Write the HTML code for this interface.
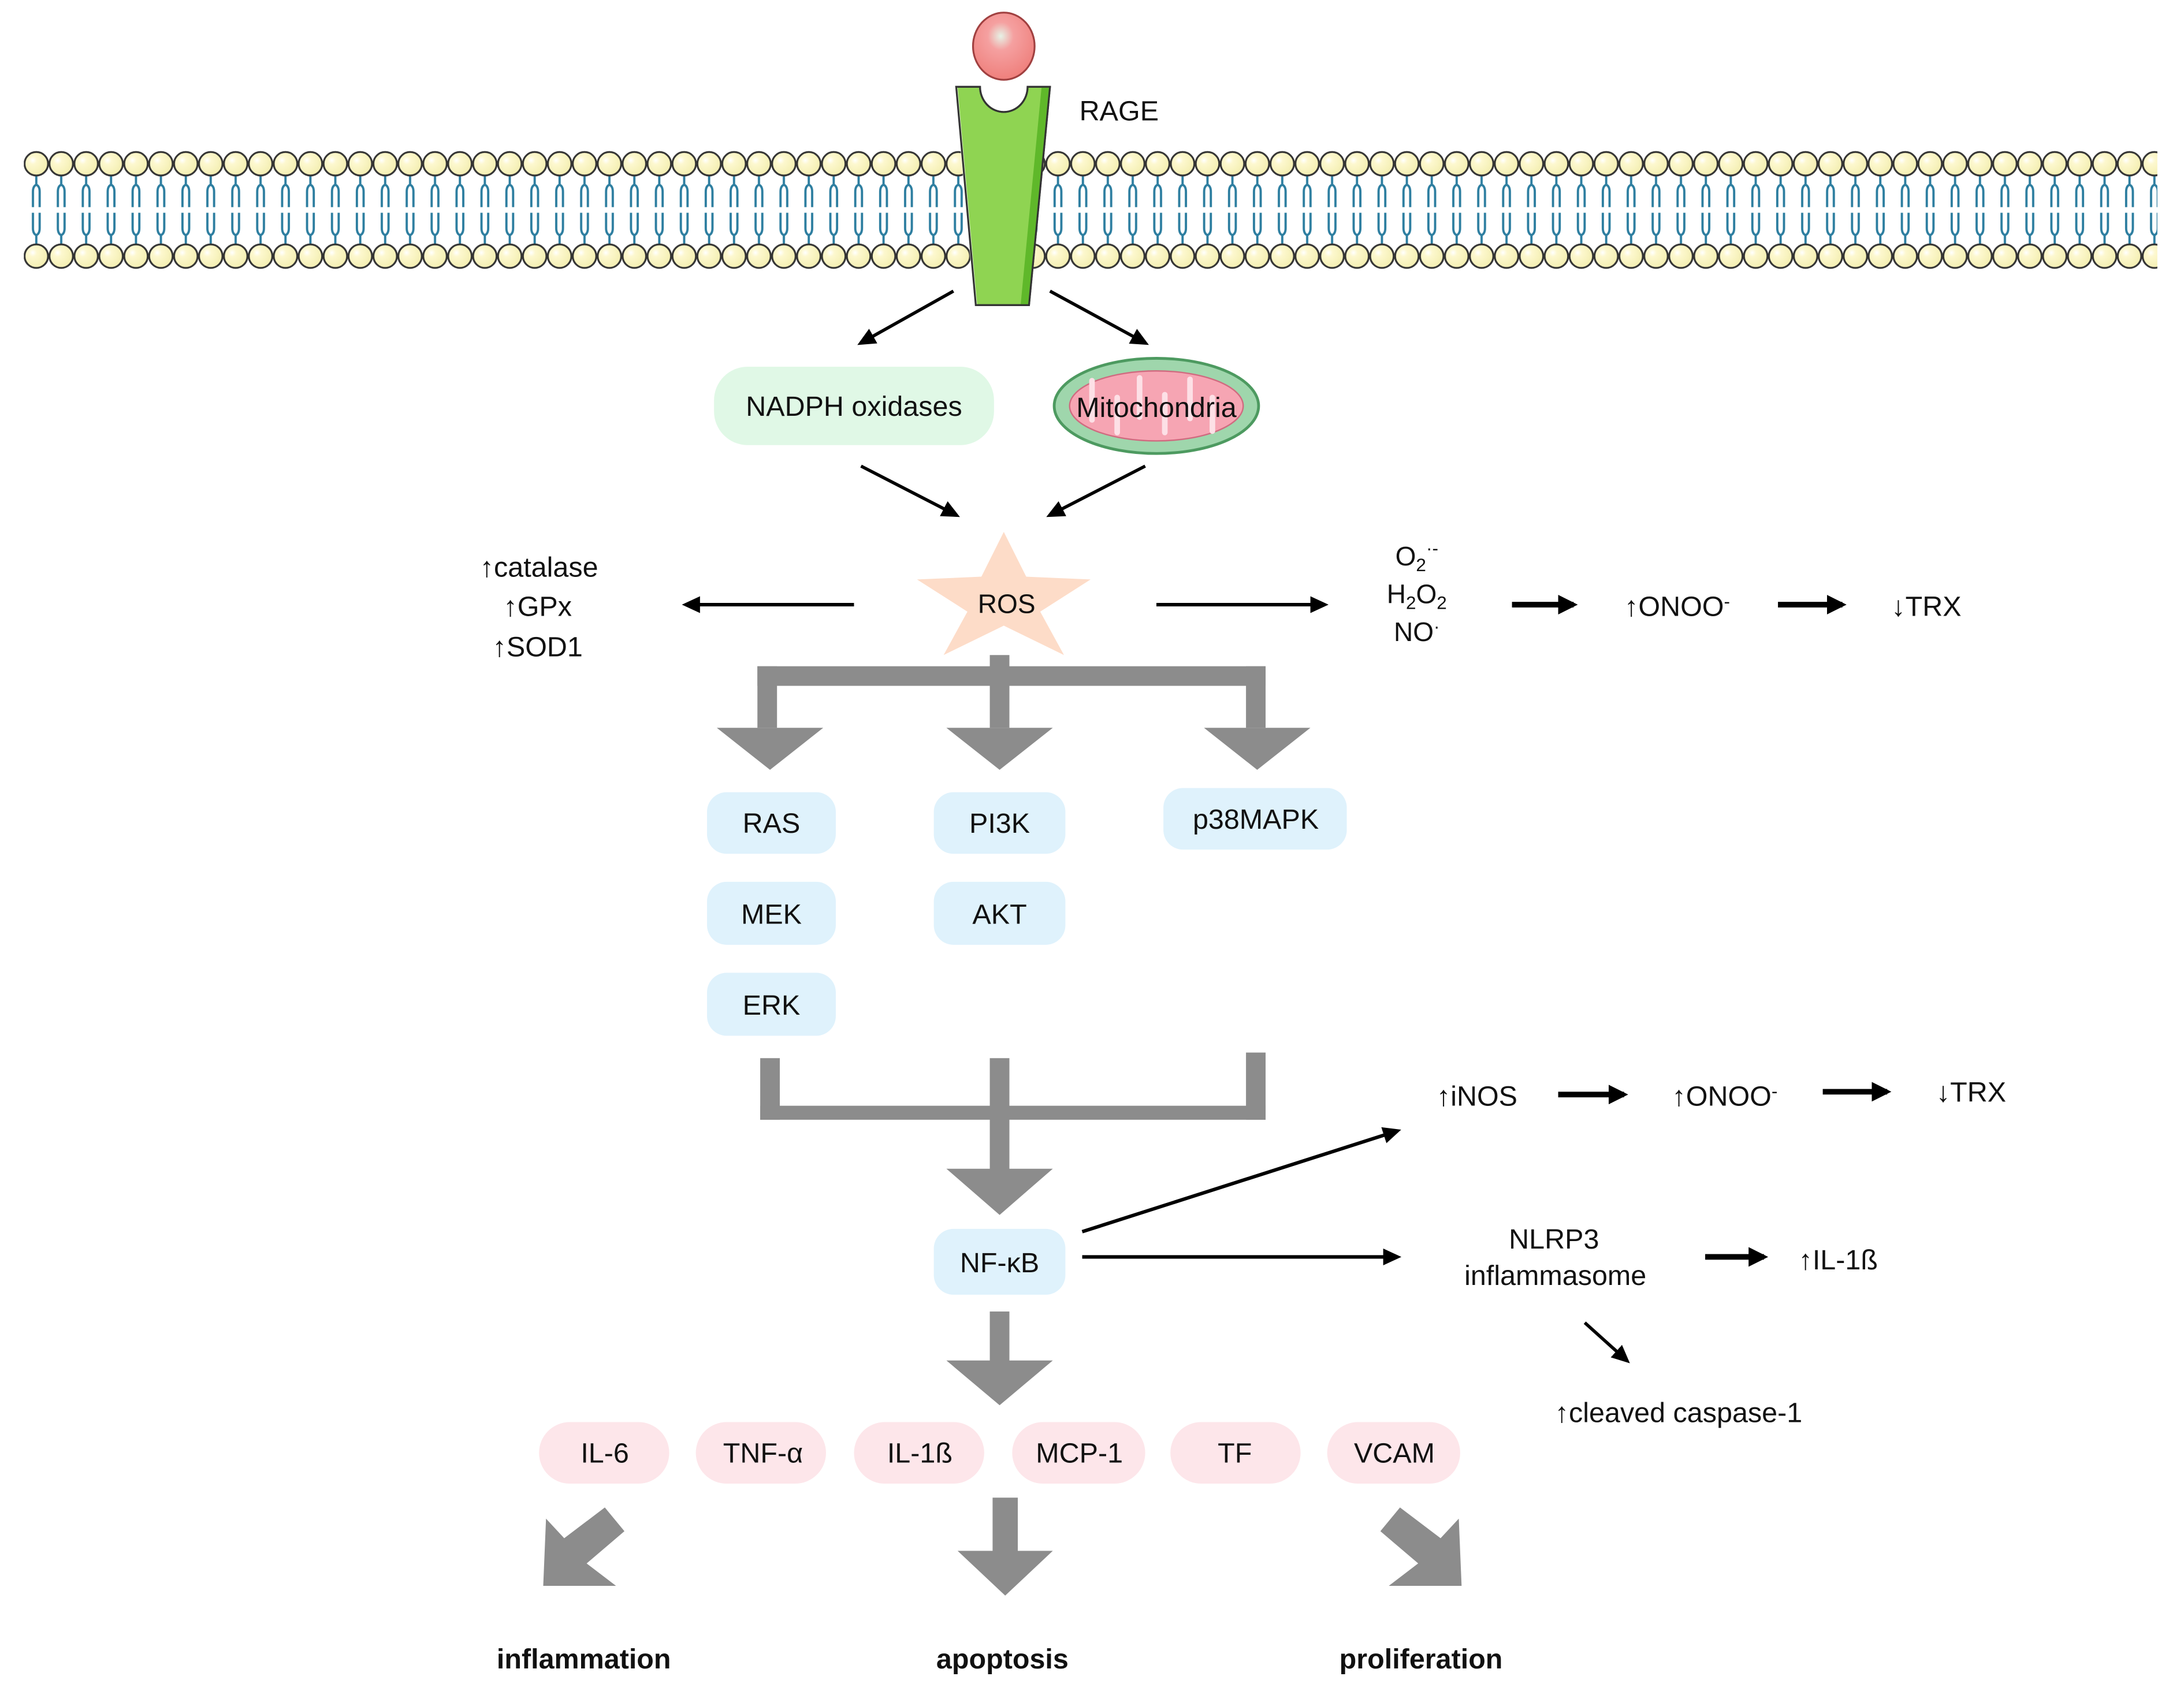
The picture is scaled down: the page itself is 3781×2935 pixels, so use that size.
<!DOCTYPE html>
<html><head><meta charset="utf-8"><style>
html,body{margin:0;padding:0;background:#fff;}
svg{display:block;}
text{font-family:"Liberation Sans",Arial,sans-serif;fill:#111;}
</style></head><body>
<svg width="3781" height="2935" viewBox="0 0 1560 1211" xmlns="http://www.w3.org/2000/svg">
<defs>
<radialGradient id="head" cx="0.35" cy="0.35" r="0.7"><stop offset="0" stop-color="#ffffff"/><stop offset="0.25" stop-color="#fdf8cf"/><stop offset="1" stop-color="#f3eeb0"/></radialGradient>
<radialGradient id="ball" cx="0.45" cy="0.35" r="0.7"><stop offset="0" stop-color="#e6f2e6"/><stop offset="0.3" stop-color="#f5a0a0"/><stop offset="1" stop-color="#ee7c78"/></radialGradient>
<pattern id="mem" patternUnits="userSpaceOnUse" x="17" y="0" width="17.8" height="300">
<path d="M8.9 126 V132 M8.9 132 Q6.5 133 6.5 137 V148 M8.9 132 Q11.3 133 11.3 137 V148 M8.9 174 V168 M8.9 168 Q6.5 167 6.5 163 V152 M8.9 168 Q11.3 167 11.3 163 V152" stroke="#2d7ea0" stroke-width="1.6" fill="none"/>
<circle cx="8.9" cy="117" r="8.4" fill="url(#head)" stroke="#333" stroke-width="1.3"/>
<circle cx="8.9" cy="183" r="8.4" fill="url(#head)" stroke="#333" stroke-width="1.3"/>
</pattern>
<marker id="ah" markerWidth="13" markerHeight="12" refX="10" refY="6" orient="auto" markerUnits="userSpaceOnUse"><path d="M0 0 L13 6 L0 12 Z" fill="#000"/></marker>
<marker id="ah2" markerWidth="14" markerHeight="14" refX="11" refY="7" orient="auto" markerUnits="userSpaceOnUse"><path d="M0 0 L14 7 L0 14 Z" fill="#000"/></marker>
</defs>

<rect x="17" y="106" width="1524" height="88" fill="url(#mem)"/>

<path d="M683 62 H700 A17 18 0 0 0 734 62 H750 L735 218 H697 Z" fill="#8fd452" stroke="#333" stroke-width="1.3"/>
<path d="M744 62 H750 L735 218 H729 Z" fill="#5fb82a"/>
<path d="M683 62 L697 218" stroke="#fff" stroke-width="2" opacity="0.7"/>
<path d="M683 62 H700 A17 18 0 0 0 734 62 H750 L735 218 H697 Z" fill="none" stroke="#333" stroke-width="1.3"/>
<ellipse cx="717" cy="33" rx="22" ry="24" fill="url(#ball)" stroke="#a04040" stroke-width="1.3"/>
<text x="771" y="86" font-size="20">RAGE</text>

<line x1="681" y1="208" x2="615" y2="245" stroke="#000" stroke-width="2.3" marker-end="url(#ah)"/>
<line x1="750" y1="208" x2="818" y2="245" stroke="#000" stroke-width="2.3" marker-end="url(#ah)"/>

<rect x="510" y="262" width="200" height="56" rx="24" fill="#e0f8e6"/>
<text x="610" y="297" font-size="20" text-anchor="middle">NADPH oxidases</text>

<ellipse cx="826" cy="290" rx="73" ry="34" fill="#9fd6ac" stroke="#4d9a60" stroke-width="2"/>
<ellipse cx="826" cy="290" rx="62" ry="25" fill="#f6a5b3" stroke="#d06b80" stroke-width="1"/>
<g stroke="#fde0e6" stroke-width="4" fill="none" stroke-linecap="round">
<path d="M780 272 V300 M798 309 V284 M814 270 V298 M832 309 V282 M850 271 V299 M866 308 V284"/>
</g>
<text x="826" y="298" font-size="20" text-anchor="middle">Mitochondria</text>

<line x1="615" y1="333" x2="683" y2="368" stroke="#000" stroke-width="2.3" marker-end="url(#ah)"/>
<line x1="818" y1="333" x2="750" y2="368" stroke="#000" stroke-width="2.3" marker-end="url(#ah)"/>

<polygon points="717,380 733,412 779,414 743,437 760,468 717,447 674,468 691,437 655,414 701,412" fill="#fddcc8"/>
<text x="719" y="438" font-size="19" text-anchor="middle">ROS</text>

<line x1="610" y1="432" x2="490" y2="432" stroke="#000" stroke-width="2.5" marker-end="url(#ah)"/>
<text x="385" y="412" font-size="20" text-anchor="middle">↑catalase</text>
<text x="384" y="440" font-size="20" text-anchor="middle">↑GPx</text>
<text x="384" y="469" font-size="20" text-anchor="middle">↑SOD1</text>

<line x1="826" y1="432" x2="946" y2="432" stroke="#000" stroke-width="2.5" marker-end="url(#ah)"/>
<text x="1012" y="404" font-size="19" text-anchor="middle">O<tspan font-size="13" dy="4">2</tspan><tspan font-size="13" dy="-12">·-</tspan></text>
<text x="1012" y="431" font-size="19" text-anchor="middle">H<tspan font-size="13" dy="4">2</tspan><tspan dy="-4">O</tspan><tspan font-size="13" dy="4">2</tspan></text>
<text x="1012" y="458" font-size="19" text-anchor="middle">NO<tspan font-size="13" dy="-6">·</tspan></text>

<line x1="1080" y1="432" x2="1124" y2="432" stroke="#000" stroke-width="4" marker-end="url(#ah2)"/>
<text x="1198" y="440" font-size="20" text-anchor="middle">↑ONOO<tspan font-size="13" dy="-6">-</tspan></text>
<line x1="1270" y1="432" x2="1316" y2="432" stroke="#000" stroke-width="4" marker-end="url(#ah2)"/>
<text x="1376" y="440" font-size="20" text-anchor="middle">↓TRX</text>

<g fill="#8c8c8c">
<rect x="541" y="476" width="363" height="14"/>
<rect x="707" y="468" width="14" height="52"/>
<rect x="541" y="476" width="14" height="44"/>
<rect x="890" y="476" width="14" height="44"/>
<polygon points="512,520 588,520 550,550"/>
<polygon points="676,520 752,520 714,550"/>
<polygon points="860,520 936,520 898,550"/>
<rect x="543" y="756" width="14" height="44"/>
<rect x="707" y="756" width="14" height="80"/>
<rect x="890" y="752" width="14" height="48"/>
<rect x="543" y="790" width="361" height="10"/>
<polygon points="676,835 752,835 714,868"/>
<rect x="707" y="937" width="14" height="36"/>
<polygon points="676,972 752,972 714,1004"/>
<rect x="709" y="1070" width="18" height="40"/>
<polygon points="684,1108 752,1108 718,1140"/>
<polygon points="388,1133 390,1085 403,1099 432,1077 446,1094 419,1117 440,1133"/>
<polygon points="1044,1133 1042,1085 1029,1099 1000,1077 986,1094 1013,1117 992,1133"/>
</g>

<g fill="#dff2fc">
<rect x="505" y="566" width="92" height="44" rx="14"/>
<rect x="667" y="566" width="94" height="44" rx="14"/>
<rect x="831" y="563" width="131" height="44" rx="14"/>
<rect x="505" y="630" width="92" height="45" rx="14"/>
<rect x="667" y="630" width="94" height="45" rx="14"/>
<rect x="505" y="695" width="92" height="45" rx="14"/>
<rect x="667" y="878" width="94" height="47" rx="14"/>
</g>
<g font-size="20" text-anchor="middle">
<text x="551" y="595">RAS</text>
<text x="714" y="595">PI3K</text>
<text x="897" y="592">p38MAPK</text>
<text x="551" y="660">MEK</text>
<text x="714" y="660">AKT</text>
<text x="551" y="725">ERK</text>
<text x="714" y="909">NF-κB</text>
</g>

<line x1="773" y1="880" x2="998" y2="808" stroke="#000" stroke-width="2.5" marker-end="url(#ah)"/>
<line x1="773" y1="898" x2="998" y2="898" stroke="#000" stroke-width="2.5" marker-end="url(#ah)"/>

<text x="1055" y="790" font-size="20" text-anchor="middle">↑iNOS</text>
<line x1="1113" y1="782" x2="1160" y2="782" stroke="#000" stroke-width="4" marker-end="url(#ah2)"/>
<text x="1232" y="790" font-size="20" text-anchor="middle">↑ONOO<tspan font-size="13" dy="-6">-</tspan></text>
<line x1="1302" y1="780" x2="1348" y2="780" stroke="#000" stroke-width="4" marker-end="url(#ah2)"/>
<text x="1408" y="787" font-size="20" text-anchor="middle">↓TRX</text>

<text x="1110" y="892" font-size="20" text-anchor="middle">NLRP3</text>
<text x="1111" y="918" font-size="20" text-anchor="middle">inflammasome</text>
<line x1="1218" y1="898" x2="1260" y2="898" stroke="#000" stroke-width="4" marker-end="url(#ah2)"/>
<text x="1313" y="907" font-size="20" text-anchor="middle">↑IL-1ß</text>
<line x1="1132" y1="945" x2="1162" y2="972" stroke="#000" stroke-width="2.3" marker-end="url(#ah)"/>
<text x="1199" y="1016" font-size="20" text-anchor="middle">↑cleaved caspase-1</text>

<g fill="#fde6ea">
<rect x="385" y="1016" width="93" height="44" rx="22"/>
<rect x="497" y="1016" width="93" height="44" rx="22"/>
<rect x="610" y="1016" width="93" height="44" rx="22"/>
<rect x="723" y="1016" width="95" height="44" rx="22"/>
<rect x="836" y="1016" width="93" height="44" rx="22"/>
<rect x="948" y="1016" width="95" height="44" rx="22"/>
</g>
<g font-size="20" text-anchor="middle">
<text x="432" y="1045">IL-6</text>
<text x="545" y="1045">TNF-α</text>
<text x="657" y="1045">IL-1ß</text>
<text x="771" y="1045">MCP-1</text>
<text x="882" y="1045">TF</text>
<text x="996" y="1045">VCAM</text>
</g>

<g font-size="20" font-weight="bold" text-anchor="middle">
<text x="417" y="1192">inflammation</text>
<text x="716" y="1192">apoptosis</text>
<text x="1015" y="1192">proliferation</text>
</g>
</svg>
</body></html>
